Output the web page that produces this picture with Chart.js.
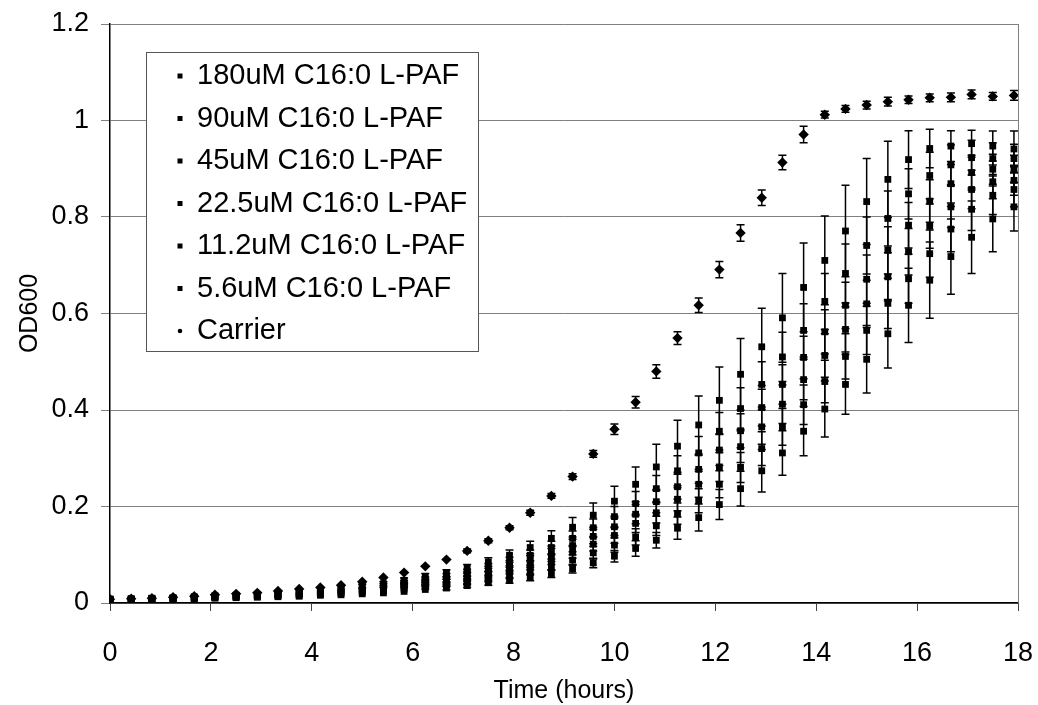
<!DOCTYPE html>
<html>
<head>
<meta charset="utf-8">
<title>OD600 growth curves</title>
<script src="https://cdn.jsdelivr.net/npm/chart.js@4.4.0/dist/chart.umd.min.js"></script>
<style>
  html, body { margin: 0; padding: 0; background: #fff; }
  #wrap { width: 1038px; height: 705px; position: relative; }
</style>
</head>
<body>
<div id="wrap"><canvas id="growthChart"></canvas></div>
<script>
// time points (hours), one reading every 25 min
const times = [0, 0.42, 0.83, 1.25, 1.67, 2.08, 2.5, 2.92, 3.33, 3.75,
  4.17, 4.58, 5, 5.42, 5.83, 6.25, 6.67, 7.08, 7.5, 7.92,
  8.33, 8.75, 9.17, 9.58, 10, 10.42, 10.83, 11.25, 11.67, 12.08,
  12.5, 12.92, 13.33, 13.75, 14.17, 14.58, 15, 15.42, 15.83, 16.25,
  16.67, 17.08, 17.5, 17.92];

const labels = ['180uM C16:0 L-PAF', '90uM C16:0 L-PAF', '45uM C16:0 L-PAF',
  '22.5uM C16:0 L-PAF', '11.2uM C16:0 L-PAF', '5.6uM C16:0 L-PAF', 'Carrier'];

// mean OD600 per condition
const paf180 = [0.006, 0.006, 0.007, 0.008, 0.009, 0.010, 0.011, 0.012, 0.013, 0.014,
  0.016, 0.017, 0.019, 0.021, 0.024, 0.028, 0.031, 0.036, 0.042, 0.047,
  0.053, 0.061, 0.071, 0.083, 0.097, 0.113, 0.130, 0.155, 0.177, 0.204,
  0.237, 0.274, 0.311, 0.356, 0.402, 0.453, 0.505, 0.558, 0.617, 0.669,
  0.718, 0.758, 0.796, 0.821];
const paf90 = [0.006, 0.007, 0.008, 0.009, 0.010, 0.011, 0.012, 0.013, 0.015, 0.016,
  0.018, 0.020, 0.022, 0.025, 0.029, 0.033, 0.038, 0.043, 0.050, 0.058,
  0.066, 0.077, 0.089, 0.104, 0.120, 0.137, 0.160, 0.185, 0.212, 0.246,
  0.281, 0.320, 0.365, 0.411, 0.459, 0.511, 0.565, 0.621, 0.672, 0.724,
  0.775, 0.816, 0.845, 0.857];
const paf45 = [0.007, 0.007, 0.008, 0.009, 0.010, 0.012, 0.013, 0.015, 0.016, 0.018,
  0.020, 0.022, 0.025, 0.029, 0.033, 0.038, 0.044, 0.050, 0.058, 0.067,
  0.078, 0.090, 0.105, 0.122, 0.140, 0.165, 0.187, 0.215, 0.246, 0.282,
  0.324, 0.365, 0.412, 0.463, 0.513, 0.567, 0.620, 0.676, 0.728, 0.781,
  0.821, 0.857, 0.873, 0.876];
const paf22 = [0.007, 0.008, 0.009, 0.010, 0.011, 0.013, 0.014, 0.016, 0.017, 0.019,
  0.022, 0.025, 0.028, 0.032, 0.037, 0.043, 0.049, 0.056, 0.065, 0.076,
  0.088, 0.102, 0.119, 0.138, 0.158, 0.184, 0.210, 0.241, 0.277, 0.317,
  0.357, 0.405, 0.453, 0.509, 0.562, 0.617, 0.671, 0.731, 0.783, 0.833,
  0.869, 0.892, 0.899, 0.900];
const paf11 = [0.008, 0.008, 0.009, 0.010, 0.012, 0.014, 0.015, 0.017, 0.019, 0.021,
  0.024, 0.027, 0.031, 0.036, 0.042, 0.049, 0.055, 0.063, 0.074, 0.086,
  0.099, 0.115, 0.134, 0.156, 0.179, 0.206, 0.237, 0.274, 0.311, 0.356,
  0.403, 0.453, 0.510, 0.565, 0.625, 0.683, 0.741, 0.797, 0.848, 0.886,
  0.908, 0.923, 0.921, 0.921];
const paf5 = [0.008, 0.009, 0.010, 0.011, 0.013, 0.015, 0.016, 0.018, 0.020, 0.023,
  0.026, 0.030, 0.035, 0.040, 0.047, 0.055, 0.062, 0.072, 0.085, 0.099,
  0.115, 0.134, 0.157, 0.182, 0.211, 0.246, 0.282, 0.325, 0.369, 0.420,
  0.474, 0.531, 0.591, 0.654, 0.710, 0.771, 0.832, 0.878, 0.919, 0.942,
  0.947, 0.952, 0.947, 0.941];
const carrier = [0.008, 0.009, 0.010, 0.012, 0.014, 0.017, 0.019, 0.021, 0.025, 0.029,
  0.032, 0.037, 0.044, 0.053, 0.063, 0.076, 0.090, 0.108, 0.129, 0.156,
  0.187, 0.222, 0.262, 0.309, 0.360, 0.416, 0.480, 0.549, 0.617, 0.691,
  0.767, 0.840, 0.913, 0.971, 1.012, 1.024, 1.032, 1.039, 1.043, 1.047,
  1.048, 1.054, 1.050, 1.052];

// standard deviations (error bars)
const sd180 = [0.001, 0.001, 0.001, 0.001, 0.001, 0.001, 0.001, 0.001, 0.001, 0.001,
  0.002, 0.002, 0.002, 0.002, 0.003, 0.003, 0.004, 0.004, 0.005, 0.006,
  0.007, 0.008, 0.009, 0.010, 0.012, 0.016, 0.016, 0.023, 0.028, 0.031,
  0.036, 0.044, 0.046, 0.051, 0.058, 0.062, 0.070, 0.071, 0.077, 0.079,
  0.078, 0.075, 0.068, 0.050];
const sd90 = [0.001, 0.001, 0.001, 0.001, 0.001, 0.001, 0.001, 0.001, 0.001, 0.002,
  0.002, 0.002, 0.002, 0.003, 0.003, 0.004, 0.004, 0.005, 0.006, 0.007,
  0.008, 0.009, 0.011, 0.013, 0.015, 0.017, 0.020, 0.022, 0.025, 0.028,
  0.031, 0.035, 0.038, 0.041, 0.044, 0.047, 0.050, 0.052, 0.051, 0.049,
  0.047, 0.044, 0.040, 0.036];
const sd45 = [0.001, 0.001, 0.001, 0.001, 0.001, 0.001, 0.001, 0.001, 0.002, 0.002,
  0.002, 0.002, 0.003, 0.003, 0.003, 0.004, 0.005, 0.005, 0.006, 0.007,
  0.009, 0.010, 0.012, 0.014, 0.016, 0.019, 0.021, 0.024, 0.027, 0.030,
  0.033, 0.036, 0.040, 0.042, 0.045, 0.047, 0.049, 0.050, 0.048, 0.046,
  0.043, 0.040, 0.035, 0.031];
const sd22 = [0.001, 0.001, 0.001, 0.001, 0.001, 0.001, 0.001, 0.002, 0.002, 0.002,
  0.002, 0.002, 0.003, 0.003, 0.004, 0.004, 0.005, 0.006, 0.007, 0.008,
  0.010, 0.011, 0.013, 0.015, 0.018, 0.020, 0.023, 0.026, 0.029, 0.032,
  0.035, 0.038, 0.041, 0.044, 0.046, 0.048, 0.050, 0.049, 0.047, 0.044,
  0.040, 0.036, 0.031, 0.028];
const sd11 = [0.001, 0.001, 0.001, 0.001, 0.001, 0.001, 0.002, 0.002, 0.002, 0.002,
  0.002, 0.003, 0.003, 0.004, 0.004, 0.005, 0.006, 0.007, 0.008, 0.009,
  0.011, 0.013, 0.015, 0.018, 0.021, 0.025, 0.027, 0.031, 0.034, 0.039,
  0.043, 0.047, 0.051, 0.055, 0.058, 0.061, 0.059, 0.057, 0.052, 0.048,
  0.041, 0.036, 0.033, 0.030];
const sd5 = [0.001, 0.001, 0.001, 0.001, 0.001, 0.002, 0.002, 0.002, 0.002, 0.002,
  0.003, 0.003, 0.004, 0.004, 0.005, 0.006, 0.007, 0.008, 0.009, 0.011,
  0.013, 0.016, 0.020, 0.025, 0.031, 0.036, 0.047, 0.054, 0.060, 0.069,
  0.074, 0.080, 0.092, 0.092, 0.092, 0.095, 0.089, 0.079, 0.060, 0.040,
  0.032, 0.028, 0.031, 0.037];
const sdCarrier = [0.001, 0.001, 0.001, 0.001, 0.001, 0.001, 0.001, 0.001, 0.001, 0.002,
  0.002, 0.002, 0.002, 0.002, 0.003, 0.003, 0.003, 0.004, 0.004, 0.004,
  0.005, 0.005, 0.006, 0.007, 0.011, 0.012, 0.014, 0.013, 0.015, 0.017,
  0.017, 0.016, 0.015, 0.017, 0.007, 0.007, 0.008, 0.009, 0.008, 0.008,
  0.009, 0.009, 0.008, 0.010];

const xTicks = [0, 2, 4, 6, 8, 10, 12, 14, 16, 18];
const yTicks = [0, 0.2, 0.4, 0.6, 0.8, 1, 1.2];

const seriesVals = [paf180, paf90, paf45, paf22, paf11, paf5, carrier];
const seriesSd = [sd180, sd90, sd45, sd22, sd11, sd5, sdCarrier];

const FONT = "'Liberation Sans', Arial, sans-serif";

const datasets = seriesVals.map((vals, i) => ({
    label: labels[i],
    data: times.map((t, j) => ({ x: t, y: vals[j] })),
    errors: seriesSd[i],
    pointStyle: i === 6 ? 'rectRot' : 'rect',
    pointRadius: i === 6 ? 5.2 : 4.8,
    backgroundColor: '#000',
    borderColor: '#000',
    borderWidth: 0,
    showLine: false
}));

// error bars, drawn under the markers
const errorBars = {
    id: 'errorBars',
    beforeDatasetsDraw(chart) {
        const ctx = chart.ctx;
        const y = chart.scales.y;
        ctx.save();
        ctx.strokeStyle = '#000';
        ctx.lineWidth = 1.5;
        chart.data.datasets.forEach((ds, i) => {
            const meta = chart.getDatasetMeta(i);
            meta.data.forEach((pt, j) => {
                const v = ds.data[j].y, e = ds.errors[j];
                const top = y.getPixelForValue(v + e);
                const bot = y.getPixelForValue(v - e);
                if (bot - top < 3) return;
                ctx.beginPath();
                ctx.moveTo(pt.x, top); ctx.lineTo(pt.x, bot);
                ctx.moveTo(pt.x - 4, top); ctx.lineTo(pt.x + 4, top);
                ctx.moveTo(pt.x - 4, bot); ctx.lineTo(pt.x + 4, bot);
                ctx.stroke();
            });
        });
        ctx.restore();
    }
};

// right frame line and the boxed legend
const frameAndLegend = {
    id: 'frameAndLegend',
    afterDraw(chart) {
        const ctx = chart.ctx;
        const area = chart.chartArea;
        ctx.save();
        ctx.strokeStyle = '#808080';
        ctx.lineWidth = 1;
        ctx.beginPath();
        ctx.moveTo(area.right + 0.5, area.top);
        ctx.lineTo(area.right + 0.5, area.bottom);
        ctx.stroke();

        const bx = 146, by = 52, bw = 332, bh = 299;
        ctx.fillStyle = '#fff';
        ctx.fillRect(bx, by, bw, bh);
        ctx.strokeStyle = '#555';
        ctx.strokeRect(bx + 0.5, by + 0.5, bw, bh);

        ctx.font = '29px ' + FONT;
        ctx.textBaseline = 'middle';
        ctx.fillStyle = '#000';
        chart.data.datasets.forEach((ds, i) => {
            const ry = 75 + i * 42.5;
            if (i === 6) {
                ctx.beginPath();
                ctx.arc(180, ry + 1, 2.3, 0, Math.PI * 2);
                ctx.fill();
            } else {
                ctx.fillRect(177.5, ry - 1.5, 5, 5);
            }
            ctx.fillText(ds.label, 197, ry + 1);
        });
        ctx.restore();
    }
};

new Chart(document.getElementById('growthChart'), {
    type: 'scatter',
    data: { datasets: datasets },
    options: {
        responsive: true,
        maintainAspectRatio: false,
        animation: false,
        layout: { padding: { left: 0, right: 20, top: 24, bottom: 0 } },
        plugins: { legend: { display: false }, tooltip: { enabled: false } },
        scales: {
            x: {
                type: 'linear',
                min: 0, max: 18,
                afterBuildTicks: axis => { axis.ticks = xTicks.map(v => ({ value: v })); },
                afterFit: s => { s.height = 102; s.paddingLeft = 0; s.paddingRight = 0; },
                grid: { drawOnChartArea: false, tickLength: 8, color: '#444' },
                border: { color: '#000', width: 1.5 },
                ticks: { color: '#000', font: { family: FONT, size: 27 }, padding: 26, maxRotation: 0,
                         callback: v => String(v) },
                title: { display: true, text: 'Time (hours)', color: '#000',
                         font: { family: FONT, size: 25 }, padding: { top: 0, bottom: -1 } }
            },
            y: {
                min: 0, max: 1.2,
                afterBuildTicks: axis => { axis.ticks = yTicks.map(v => ({ value: v })); },
                afterFit: s => { s.width = 110; s.paddingTop = 0; s.paddingBottom = 0; },
                grid: { color: '#808080', lineWidth: 1, tickLength: 9 },
                border: { color: '#000', width: 1.5 },
                ticks: { color: '#000', font: { family: FONT, size: 27 }, padding: 12,
                         callback: v => String(v) },
                title: { display: true, text: 'OD600', color: '#000',
                         font: { family: FONT, size: 25 }, padding: { top: 15, bottom: 0 } }
            }
        }
    },
    plugins: [errorBars, frameAndLegend]
});
</script>
</body>
</html>
